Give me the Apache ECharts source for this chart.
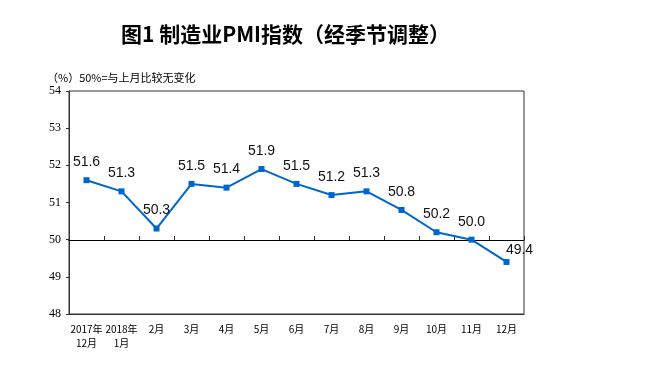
<!DOCTYPE html>
<html><head><meta charset="utf-8">
<script src="https://cdn.jsdelivr.net/npm/echarts@6/dist/echarts.min.js"></script>
<style>html,body{margin:0;padding:0;background:#fff}#c{width:648px;height:366px}</style>
</head><body><div id="c"></div>
<script>
const categories = ['2017年\n12月','2018年\n1月','2月','3月','4月','5月','6月','7月','8月','9月','10月','11月','12月'];
const pmi = [51.6, 51.3, 50.3, 51.5, 51.4, 51.9, 51.5, 51.2, 51.3, 50.8, 50.2, 50.0, 49.4];
const yTicks = [48, 49, 50, 51, 52, 53, 54];
const title = '图1 制造业PMI指数（经季节调整）';
const note = '（%）50%=与上月比较无变化';

const chart = echarts.init(document.getElementById('c'));
chart.setOption({
  animation: false,
  backgroundColor: '#fff',
  title: [
    {text: title, left: 116, top: 19, textStyle: {fontFamily: 'Noto Sans CJK SC', fontWeight: 'bold', fontSize: 21, color: '#000'}},
    {text: note, left: 42, top: 67, textStyle: {fontFamily: 'Noto Sans CJK SC', fontWeight: 'normal', fontSize: 11, color: '#000'}}
  ],
  grid: {left: 69, right: 124, top: 91, bottom: 52, show: true, borderColor: '#333', borderWidth: 1},
  xAxis: [
    {type: 'category', data: categories, boundaryGap: true, position: 'bottom',
     axisLine: {show: true, lineStyle: {color: '#333'}}, axisTick: {show: false},
     axisLabel: {fontFamily: 'Noto Sans CJK SC', fontSize: 10, color: '#000', margin: 8, lineHeight: 14, interval: 0}},
    {type: 'category', data: categories, boundaryGap: true, position: 'bottom', offset: -74,
     axisLine: {show: true, lineStyle: {color: '#000'}}, axisTick: {show: true, inside: true, interval: 0, length: 4, lineStyle: {color: '#333'}},
     axisLabel: {show: false}}
  ],
  yAxis: {type: 'value', min: yTicks[0], max: yTicks[yTicks.length-1], interval: 1,
    axisLine: {show: true, lineStyle: {color: '#333'}}, axisTick: {show: true, length: 3, lineStyle: {color: '#333'}},
    splitLine: {show: false},
    axisLabel: {fontFamily: 'Liberation Serif', fontSize: 12, color: '#000', margin: 8}},
  series: [{
    type: 'line', data: pmi, xAxisIndex: 0,
    symbol: 'rect', symbolSize: 6,
    lineStyle: {color: '#0066cc', width: 2},
    itemStyle: {color: '#0066cc'},
    label: {show: true, position: 'top', distance: 8, fontFamily: 'Liberation Sans', fontSize: 14, color: '#111',
      formatter: p => p.value.toFixed(1)},
    labelLayout: p => p.dataIndex === pmi.length - 1 ? {dx: 13, dy: 6} : {}
  }]
});
</script></body></html>
